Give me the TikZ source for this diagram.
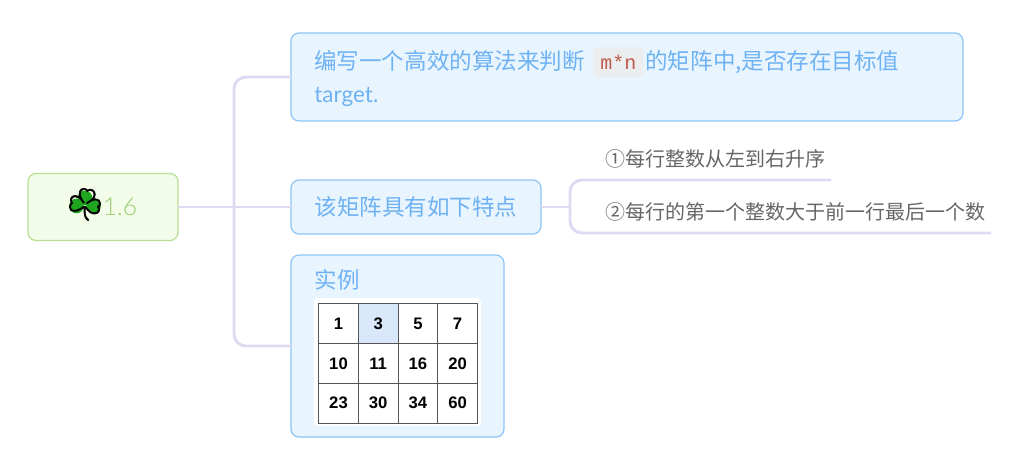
\documentclass[tikz,border=0pt]{standalone}
\usepackage{fontspec}
\setmainfont{Lato}
\setmonofont{Liberation Mono}
\newfontfamily\cjk{Noto Sans CJK SC}
\newfontfamily\emojifont[FakeBold=2]{Noto Emoji}
\newfontfamily\cellfont{Liberation Sans}
\newfontfamily\rootfont{Lato Light}
\usetikzlibrary{positioning}

\definecolor{topicfill}{HTML}{E8F5FF}
\definecolor{topicline}{HTML}{8CC4F6}
\definecolor{topictext}{HTML}{6FB2F3}
\definecolor{rootfill}{HTML}{F2FCE9}
\definecolor{rootline}{HTML}{B7DF94}
\definecolor{roottext}{HTML}{9BCF72}
\definecolor{cloverfill}{HTML}{1FA51F}
\definecolor{branchline}{HTML}{E0D9F3}
\definecolor{codefill}{HTML}{EBEDEE}
\definecolor{codetext}{HTML}{BF5B4C}
\definecolor{leaftext}{HTML}{666666}
\definecolor{cellfill}{HTML}{D8E7FA}
\definecolor{cellline}{HTML}{555555}

\begin{document}
\begin{tikzpicture}[
  x=0.75pt, y=-0.75pt,
  rootbox/.style={rectangle, rounded corners=6pt, draw=rootline, fill=rootfill, line width=0.9pt, outer sep=0pt, minimum width=112.5pt, minimum height=50.25pt, text=roottext, font=\rootfont\fontsize{18.5pt}{18.5pt}\selectfont},
  topic/.style={rectangle, rounded corners=6pt, draw=topicline, fill=topicfill, line width=0.9pt, outer sep=0pt, anchor=north west, text=topictext, font=\fontsize{16.9pt}{24.75pt}\selectfont},
  codebox/.style={rectangle, rounded corners=3pt, fill=codefill, text=codetext, font=\ttfamily\fontsize{15pt}{15pt}\selectfont, minimum width=37.5pt, minimum height=22.5pt, inner sep=0pt},
  leaf/.style={anchor=south east, text=leaftext, font=\cjk\fontsize{15pt}{18pt}\selectfont, inner xsep=4.5pt, inner ysep=0pt, outer sep=0pt, minimum height=32pt},
  cell/.style={rectangle, draw=cellline, line width=0.75pt, fill=white, minimum size=29.8pt, inner sep=0pt, font=\cellfont\bfseries\fontsize{12.5pt}{12.5pt}\selectfont},
  leaflet/.style={circle, fill=cloverfill, minimum size=11pt, inner sep=0pt},
  branch/.style={draw=branchline, line width=2.2pt, rounded corners=9pt}
]

\useasboundingbox (0,0) rectangle (1025,455);

% Root
\node[rootbox] (root) at (103,207) {\hspace{25.5pt}1.6};
\node[leaflet] (leaftop) at (85,198) {};
\node[leaflet] (leafleft) at (76.5,206) {};
\node[leaflet] (leafright) at (93.5,206) {};
\node[text=black, inner sep=0pt, font=\emojifont\fontsize{24pt}{24pt}\selectfont] (clover) at (85,204.5) {\symbol{"2618}};

% Topics
\node[topic, minimum width=504pt, minimum height=66pt, text width=469pt, inner xsep=17.5pt, align=left] (desc) at (291,33)
  {{\cjk 编写一个高效的算法来判断}\hspace{6.5pt}\tikz[baseline=(code.base)]\node[codebox] (code) {m*n};\hspace{1.5pt}{\cjk 的矩阵中,是否存在目标值}\\target.};
\node[topic, minimum width=187.5pt, minimum height=40.5pt, inner xsep=17.5pt, font=\cjk\fontsize{16.9pt}{24.75pt}\selectfont] (feature) at (291,180) {该矩阵具有如下特点};
\node[topic, minimum width=159.75pt, minimum height=136.5pt] (example) at (291,255) {};
\node[anchor=west, text=topictext, font=\cjk\fontsize{16.9pt}{20pt}\selectfont, inner sep=0pt] (extitle) at (314.5,280) {实例};

% Leaves
\node[leaf] (rowsort) at (831,180) {①每行整数从左到右升序};
\node[leaf] (rowfirst) at (991,233) {②每行的第一个整数大于前一行最后一个数};

% Table
\node[rectangle, fill=white, rounded corners=3pt, minimum width=125.25pt, minimum height=96pt, inner sep=0pt] (tablebg) at (397.5,362) {};
\node[cell] (c11) at (338.5,323.8) {1};
\node[cell, fill=cellfill] (c12) at (378.2,323.8) {3};
\node[cell] (c13) at (417.9,323.8) {5};
\node[cell] (c14) at (457.6,323.8) {7};
\node[cell] (c21) at (338.5,363.5) {10};
\node[cell] (c22) at (378.2,363.5) {11};
\node[cell] (c23) at (417.9,363.5) {16};
\node[cell] (c24) at (457.6,363.5) {20};
\node[cell] (c31) at (338.5,403.2) {23};
\node[cell] (c32) at (378.2,403.2) {30};
\node[cell] (c33) at (417.9,403.2) {34};
\node[cell] (c34) at (457.6,403.2) {60};

% Branches
\coordinate (trunk) at (234,207);
\coordinate (fork) at (570,207);
\draw[branch] (root.east) -- (feature.west);
\draw[branch] (trunk) |- (desc.west);
\draw[branch] (trunk) |- (example.west);
\draw[branch] (feature.east) -- (fork);
\draw[branch] (fork) |- (rowsort.south east);
\draw[branch] (fork) |- (rowfirst.south east);

\end{tikzpicture}
\end{document}
